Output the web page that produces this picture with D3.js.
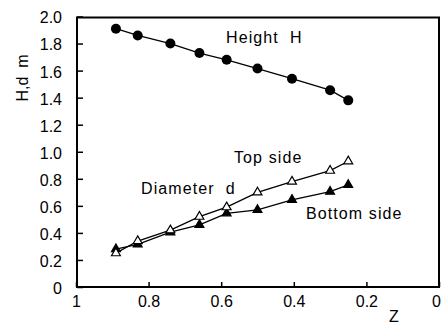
<!DOCTYPE html>
<html>
<head>
<meta charset="utf-8">
<script src="https://cdn.jsdelivr.net/npm/d3@7"></script>
<style>
  html, body { margin: 0; padding: 0; background: #fff; }
  svg { display: block; }
  text { font-family: "Liberation Sans", Arial, sans-serif; fill: #000; white-space: pre; }
</style>
</head>
<body>
<svg id="chart" width="442" height="327"></svg>
<script>
// Relative position Z along the tree (1 = base, 0 = tip)
const zValues = [0.89, 0.83, 0.74, 0.66, 0.585, 0.50, 0.405, 0.30, 0.25];
// Height H (m)
const heightH = [1.91, 1.86, 1.80, 1.73, 1.68, 1.615, 1.54, 1.455, 1.38];
// Diameter d, top side (m)
const diamTop = [0.25, 0.34, 0.42, 0.52, 0.59, 0.70, 0.78, 0.86, 0.93];
// Diameter d, bottom side (m)
const diamBottom = [0.28, 0.315, 0.405, 0.46, 0.545, 0.57, 0.645, 0.705, 0.755];

const xTicks = [1, 0.8, 0.6, 0.4, 0.2, 0];
const xTickLabels = ["1", "0.8", "0.6", "0.4", "0.2", "0"];
const yTicks = [0, 0.2, 0.4, 0.6, 0.8, 1.0, 1.2, 1.4, 1.6, 1.8, 2.0];
const yTickLabels = ["0", "0.2", "0.4", "0.6", "0.8", "1.0", "1.2", "1.4", "1.6", "1.8", "2.0"];

const svg = d3.select("#chart");
const plotL = 77, plotR = 439, plotT = 16.5, plotB = 287;

const x = d3.scaleLinear().domain([1, 0]).range([plotL - 1, plotR]);
const y = d3.scaleLinear().domain([0, 2]).range([plotB, plotT]);

// Frame
svg.append("rect")
  .attr("x", plotL).attr("y", plotT + 1)
  .attr("width", plotR - plotL).attr("height", plotB - plotT - 1)
  .attr("fill", "none").attr("stroke", "#000").attr("stroke-width", 2);

// Axes with inward ticks
const yAxis = d3.axisLeft(y).tickValues(yTicks)
  .tickFormat((d, i) => yTickLabels[i]).tickSizeInner(-6).tickSizeOuter(0).tickPadding(15);
const gy = svg.append("g").attr("transform", `translate(${plotL},0)`).call(yAxis);
gy.select(".domain").remove();
gy.selectAll(".tick line").attr("stroke-width", 1.5);
gy.selectAll(".tick text").style("font-size", "16px").attr("dy", "0.4em");

const xAxis = d3.axisBottom(x).tickValues(xTicks)
  .tickFormat((d, i) => xTickLabels[i]).tickSizeInner(-5).tickSizeOuter(0).tickPadding(9);
const gx = svg.append("g").attr("transform", `translate(0,${plotB})`).call(xAxis);
gx.select(".domain").remove();
gx.selectAll(".tick line").attr("stroke-width", 1.5);
gx.selectAll(".tick text").style("font-size", "16px")
  .attr("dx", d => d === 0 ? -3 : 0);

// Series
const seriesList = [
  { values: heightH, shape: "circle", fill: "#000" },
  { values: diamBottom, shape: "triangle", fill: "#000" },
  { values: diamTop, shape: "triangle", fill: "#fff" }
];

const line = d3.line().x(d => x(d[0])).y(d => y(d[1]));

seriesList.forEach(s => {
  const pts = zValues.map((z, i) => [z, s.values[i]]);
  svg.append("path").datum(pts)
    .attr("d", line).attr("fill", "none")
    .attr("stroke", "#000").attr("stroke-width", 1.3);
});

seriesList.forEach(s => {
  const pts = zValues.map((z, i) => [z, s.values[i]]);
  if (s.shape === "circle") {
    svg.append("g").selectAll("circle").data(pts).join("circle")
      .attr("cx", d => x(d[0])).attr("cy", d => y(d[1])).attr("r", 5)
      .attr("fill", s.fill);
  } else {
    const sym = d3.symbol().type(d3.symbolTriangle).size(34);
    svg.append("g").selectAll("path").data(pts).join("path")
      .attr("d", sym)
      .attr("transform", d => `translate(${x(d[0])},${y(d[1])})`)
      .attr("fill", s.fill).attr("stroke", "#000").attr("stroke-width", 1.2);
  }
});

// Annotations
const ann = [
  { t: "Height  H", x: 226, y: 43 },
  { t: "Top side", x: 234, y: 163 },
  { t: "Diameter  d", x: 141, y: 194 },
  { t: "Bottom side", x: 306, y: 219 }
];
svg.append("g").selectAll("text").data(ann).join("text")
  .attr("x", d => d.x).attr("y", d => d.y)
  .style("font-size", "16px").style("letter-spacing", "1.1px")
  .text(d => d.t);

// Axis titles
svg.append("text")
  .attr("transform", "translate(28,78) rotate(-90)")
  .attr("text-anchor", "middle")
  .style("font-size", "16px")
  .text("H,d  m");

svg.append("text")
  .attr("x", 394).attr("y", 322)
  .attr("text-anchor", "middle")
  .style("font-size", "16px")
  .text("Z");
</script>
</body>
</html>
